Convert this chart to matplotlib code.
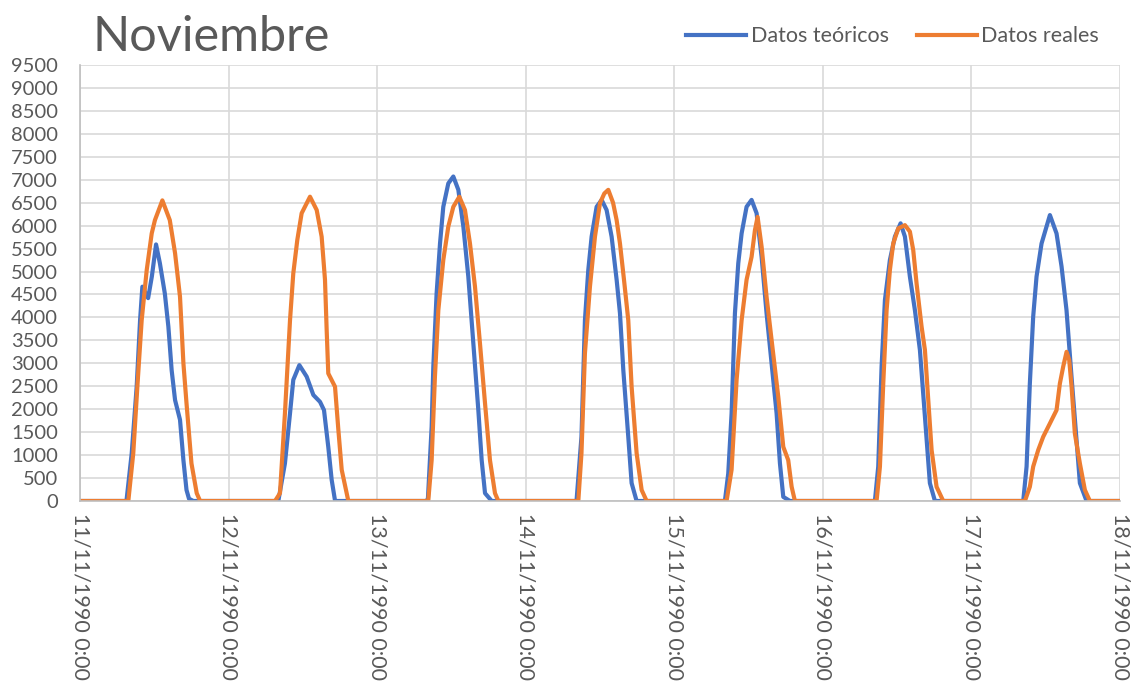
import matplotlib
matplotlib.use("Agg")
import matplotlib.pyplot as plt
from matplotlib.ticker import MultipleLocator, FuncFormatter
import matplotlib.dates as mdates
import numpy as np
import pandas as pd

plt.rcParams['font.family'] = ['Lato', 'DejaVu Sans']

inicio = pd.Timestamp('1990-11-11 00:00')
n_dias = 7

# hours of the day (per day) and power values for each series
teo_horas = [
    [7.5, 8.35, 9.15, 9.7, 10.07, 11.0, 11.6, 12.28, 12.9, 13.7, 14.27, 14.8, 15.35, 16.15, 16.7, 17.2, 17.6, 18.3],
    [8.03, 9.1, 9.92, 10.45, 11.43, 12.61, 13.69, 14.77, 15.41, 16.1, 16.65, 17.2],
    [8.0, 8.2, 8.8, 9.07, 9.6, 10.15, 10.68, 11.49, 12.3, 13.11, 13.92, 14.72, 15.53, 16.34, 16.88, 17.42, 18.5],
    [8.2, 9.0, 9.56, 10.1, 10.64, 11.45, 12.26, 13.06, 13.87, 14.68, 15.22, 15.76, 16.56, 17.1, 17.91],
    [8.17, 8.71, 9.25, 9.79, 10.33, 10.87, 11.67, 12.48, 13.29, 14.1, 14.9, 15.71, 16.52, 17.06, 17.6, 18.68],
    [8.4, 8.94, 9.48, 10.02, 10.82, 11.63, 12.55, 13.25, 14.05, 14.86, 15.67, 16.48, 17.28, 18.1],
    [8.36, 8.9, 9.43, 9.97, 10.51, 11.32, 12.67, 13.74, 14.55, 15.35, 16.16, 16.97, 17.51, 18.59],
]
teo_vals = [
    [0, 1040, 2490, 3940, 4670, 4420, 4890, 5590, 5180, 4520, 3800, 2850, 2200, 1770, 890, 240, 50, 0],
    [0, 820, 1910, 2640, 2960, 2710, 2310, 2160, 1980, 1180, 460, 0],
    [0, 60, 1620, 2930, 4520, 5610, 6410, 6920, 7070, 6780, 5980, 4890, 3440, 1980, 890, 170, 0],
    [0, 1400, 3940, 5030, 5760, 6410, 6560, 6340, 5760, 4820, 4090, 2850, 1400, 390, 0],
    [0, 600, 1910, 4090, 5180, 5830, 6410, 6560, 6270, 5320, 4090, 3000, 1910, 820, 90, 0],
    [0, 750, 2930, 4380, 5250, 5760, 6050, 5760, 4890, 4160, 3290, 1840, 390, 0],
    [0, 750, 2560, 4020, 4890, 5610, 6230, 5830, 5110, 4160, 2710, 1330, 390, 0],
]

real_horas = [
    [7.8, 8.6, 9.26, 9.96, 10.77, 11.58, 12.1, 13.3, 14.5, 15.35, 16.15, 16.7, 17.2, 18.0, 18.85, 19.4],
    [7.5, 8.3, 9.1, 9.92, 10.45, 11.1, 11.8, 13.15, 14.23, 15.03, 15.57, 15.84, 16.1, 17.19, 17.73, 18.27, 19.34],
    [8.25, 8.8, 9.33, 9.88, 10.68, 11.49, 12.3, 13.27, 14.18, 14.99, 15.8, 16.6, 17.42, 18.22, 19.03, 19.57],
    [8.49, 9.0, 9.56, 10.37, 11.18, 11.99, 12.69, 13.33, 14.1, 14.68, 15.22, 15.87, 16.56, 17.1, 17.91, 18.72, 19.53],
    [8.44, 9.25, 10.06, 10.87, 11.67, 12.48, 13.02, 13.45, 14.1, 14.9, 15.71, 16.79, 17.6, 18.4, 18.95, 19.48],
    [8.67, 9.21, 9.75, 10.29, 10.82, 11.36, 12.17, 13.25, 14.05, 14.59, 15.13, 15.94, 16.48, 17.02, 17.56, 18.36, 19.44],
    [8.63, 9.43, 9.97, 10.78, 11.59, 12.67, 13.74, 14.28, 14.82, 15.36, 15.79, 16.17, 16.7, 17.51, 18.32, 19.13],
]
real_vals = [
    [0, 1040, 2490, 3940, 5030, 5830, 6120, 6550, 6120, 5400, 4450, 3000, 2130, 820, 170, 0],
    [0, 170, 1910, 3940, 4960, 5690, 6270, 6630, 6340, 5760, 4820, 3730, 2780, 2490, 1550, 680, 0],
    [0, 890, 2710, 4160, 5250, 5980, 6410, 6630, 6340, 5610, 4670, 3440, 2130, 890, 170, 0],
    [0, 1040, 3220, 4670, 5760, 6490, 6700, 6780, 6500, 6120, 5610, 4820, 3940, 2490, 1040, 240, 0],
    [0, 680, 2640, 3940, 4820, 5320, 5900, 6190, 5540, 4450, 3510, 2270, 1180, 890, 310, 0],
    [0, 747, 2560, 4160, 5030, 5610, 5940, 6010, 5870, 5470, 4740, 3800, 3290, 2200, 1110, 310, 0],
    [0, 310, 750, 1110, 1400, 1690, 1980, 2560, 2930, 3250, 3070, 2490, 1470, 820, 240, 0],
]


def serie(horas, vals):
    h = [0.0]
    v = [0.0]
    for d in range(n_dias):
        h += [24 * d + x for x in horas[d]]
        v += list(vals[d])
    h.append(24.0 * n_dias)
    v.append(0.0)
    t = inicio + pd.to_timedelta(np.array(h), unit='h')
    return t, np.array(v)


t_teo, y_teo = serie(teo_horas, teo_vals)
t_real, y_real = serie(real_horas, real_vals)

fig = plt.figure(figsize=(11.4, 6.82), dpi=100)
ax = fig.add_axes([0.0702, 0.2654, 0.9123, 0.6393])

azul = '#4472C4'
naranja = '#ED7D31'
gris_txt = '#595959'

ax.plot(t_teo, y_teo, color=azul, lw=3, solid_joinstyle='round', label='Datos teóricos')
ax.plot(t_real, y_real, color=naranja, lw=3, solid_joinstyle='round', label='Datos reales')

ax.set_ylim(0, 9500)
ax.set_xlim(inicio, inicio + pd.Timedelta(days=n_dias))
ax.yaxis.set_major_locator(MultipleLocator(500))
ax.xaxis.set_major_locator(mdates.DayLocator())
ax.xaxis.set_major_formatter(FuncFormatter(
    lambda x, pos: (lambda d: f"{d.day}/{d.month}/{d.year} {d.hour}:{d.minute:02d}")(mdates.num2date(x))))

ax.grid(True, color='#D9D9D9', lw=1.2)
ax.set_axisbelow(True)
for s in ['top', 'right']:
    ax.spines[s].set_visible(False)
for s in ['left', 'bottom']:
    ax.spines[s].set_color('#BFBFBF')
    ax.spines[s].set_linewidth(1.2)
ax.tick_params(axis='y', length=0, labelsize=14.5, colors=gris_txt, pad=16)
ax.tick_params(axis='x', length=0, labelsize=15.5, colors=gris_txt, pad=9)
plt.setp(ax.get_xticklabels(), rotation=270, ha='center', va='top')

fig.text(0.081, 0.925, 'Noviembre', fontsize=35, color=gris_txt,
         ha='left', va='baseline')

fig.legend(loc='upper right', bbox_to_anchor=(0.981, 0.99), ncol=2, frameon=False,
           fontsize=15.5, handlelength=2.8, handletextpad=0.2, columnspacing=1.3,
           labelcolor=gris_txt)

fig.savefig('out.png', dpi=100)
